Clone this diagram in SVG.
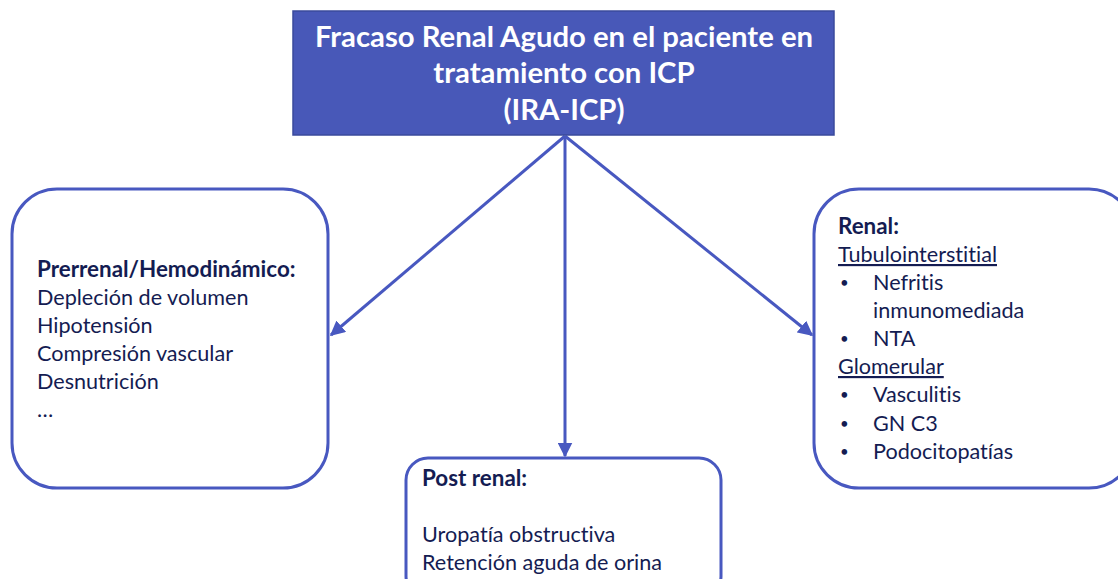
<svg xmlns="http://www.w3.org/2000/svg" width="1118" height="579" viewBox="0 0 1118 579">
<defs>
<style>
text{font-variant-ligatures:none;font-feature-settings:"liga" 0,"clig" 0}
.box{fill:#ffffff;stroke:#4858c0;stroke-width:3}
.t{font-family:Lato,"Liberation Sans",sans-serif;font-size:21.6px;fill:#141c52}
.b{font-weight:bold;font-size:22.4px}
.bul{font-size:15px}
.title{font-family:Lato,"Liberation Sans",sans-serif;font-size:29.3px;font-weight:bold;fill:#ffffff;text-anchor:middle}
.conn{stroke:#4858c0;stroke-width:3;fill:none}
</style>
<marker id="ah" viewBox="0 0 10 10" refX="9" refY="5" markerWidth="5" markerHeight="5" orient="auto" markerUnits="strokeWidth">
<path d="M0,0 L10,5 L0,10 z" fill="#4858c0"/>
</marker>
</defs>
<rect width="1118" height="579" fill="#ffffff"/>
<g id="connectors">
<line class="conn" x1="565" y1="136" x2="331" y2="335" marker-end="url(#ah)"/>
<line class="conn" x1="565" y1="136" x2="565" y2="456" marker-end="url(#ah)"/>
<line class="conn" x1="565" y1="136" x2="812" y2="335" marker-end="url(#ah)"/>
</g>
<g id="title">
<rect x="293" y="11" width="541" height="124" fill="#4858b8" stroke="#3a4a9c" stroke-width="1.5"/>
<text class="title" x="564" y="47">Fracaso Renal Agudo en el paciente en</text>
<text class="title" x="564" y="83">tratamiento con ICP</text>
<text class="title" x="564" y="120">(IRA-ICP)</text>
</g>
<g id="prerrenal">
<rect class="box" x="12" y="189" width="316" height="299" rx="45" ry="45"/>
<text class="t b" x="37" y="277">Prerrenal/Hemodinámico:</text>
<text class="t" x="37" y="305">Depleción de volumen</text>
<text class="t" x="37" y="333">Hipotensión</text>
<text class="t" x="37" y="361">Compresión vascular</text>
<text class="t" x="37" y="389">Desnutrición</text>
<text class="t" x="37" y="417">…</text>
</g>
<g id="renal">
<rect class="box" x="814" y="189" width="320" height="299" rx="45" ry="45"/>
<text class="t b" x="838" y="234">Renal:</text>
<text class="t" x="838" y="262" text-decoration="underline">Tubulointerstitial</text>
<text class="t bul" x="840" y="288">•</text>
<text class="t" x="873" y="290">Nefritis</text>
<text class="t" x="873" y="318">inmunomediada</text>
<text class="t bul" x="840" y="344">•</text>
<text class="t" x="873" y="346">NTA</text>
<text class="t" x="838" y="374" text-decoration="underline">Glomerular</text>
<text class="t bul" x="840" y="400">•</text>
<text class="t" x="873" y="402">Vasculitis</text>
<text class="t bul" x="840" y="429">•</text>
<text class="t" x="873" y="431">GN C3</text>
<text class="t bul" x="840" y="457">•</text>
<text class="t" x="873" y="459">Podocitopatías</text>
</g>
<g id="postrenal">
<rect class="box" x="406" y="458" width="315" height="140" rx="22" ry="22"/>
<text class="t b" x="422" y="486">Post renal:</text>
<text class="t" x="422" y="542">Uropatía obstructiva</text>
<text class="t" x="422" y="570">Retención aguda de orina</text>
</g>
</svg>
